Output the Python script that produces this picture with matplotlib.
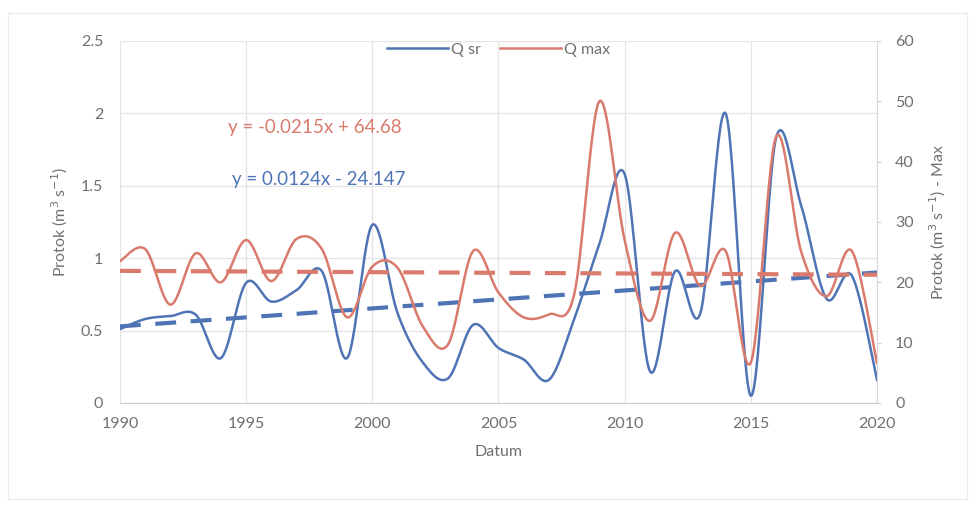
import matplotlib.pyplot as plt
import numpy as np
from matplotlib.patches import Rectangle

plt.rcParams['font.family'] = ['Lato', 'DejaVu Sans']

# yearly values
years = list(range(1990, 2021))
q_sr = [0.51, 0.58, 0.60, 0.61, 0.31, 0.83, 0.70, 0.78, 0.91, 0.31,
        1.23, 0.62, 0.28, 0.17, 0.54, 0.38, 0.30, 0.16, 0.58, 1.10,
        1.58, 0.22, 0.91, 0.62, 2.00, 0.05, 1.83, 1.36, 0.72, 0.88,
        0.16]
q_max = [23.5, 25.5, 16.3, 24.8, 20.0, 27.0, 20.2, 27.2, 25.5, 14.2,
         22.6, 22.4, 12.7, 9.7, 25.2, 18.3, 14.2, 14.7, 18.0, 50.0,
         27.0, 13.6, 28.2, 19.4, 25.2, 6.7, 44.1, 25.0, 17.7, 25.2,
         6.6]

# linear trends (slope, intercept)
trend_sr = (0.0124, -24.147)
trend_max = (-0.0215, 64.68)

blue = '#4f74b5'
red = '#d97a6c'
txt = '#707070'


def smooth(x, y, n=30):
    # bezier spline through every point, like a spreadsheet "smoothed line"
    x = np.asarray(x, float)
    y = np.asarray(y, float)
    px = np.concatenate([[x[0]], x, [x[-1]]])
    py = np.concatenate([[y[0]], y, [y[-1]]])
    xs, ys = [], []
    t = np.linspace(0, 1, n)
    for i in range(1, len(px) - 2):
        p0 = np.array([px[i], py[i]])
        p3 = np.array([px[i + 1], py[i + 1]])
        c1 = p0 + (p3 - np.array([px[i - 1], py[i - 1]])) / 6
        c2 = p3 - (np.array([px[i + 2], py[i + 2]]) - p0) / 6
        b = ((1 - t) ** 3)[:, None] * p0 + (3 * (1 - t) ** 2 * t)[:, None] * c1 \
            + (3 * (1 - t) * t ** 2)[:, None] * c2 + (t ** 3)[:, None] * p3
        xs.append(b[:, 0])
        ys.append(b[:, 1])
    return np.concatenate(xs), np.concatenate(ys)


fig = plt.figure(figsize=(9.74, 5.05), dpi=100)
fig.patches.append(Rectangle((0.008, 0.012), 0.985, 0.962, transform=fig.transFigure,
                             fill=False, edgecolor='#ececec', lw=1))
ax = fig.add_axes([0.1232, 0.202, 0.7772, 0.717])
ax2 = ax.twinx()

sx, sy = smooth(years, q_sr)
ax.plot(sx, sy, color=blue, lw=1.8, label='Q sr')
mx, my = smooth(years, q_max)
ax2.plot(mx, my, color=red, lw=1.8, label='Q max')

yr = np.array([1990, 2020])
ax.plot(yr, trend_sr[0] * yr + trend_sr[1], color=blue, lw=3, ls=(0, (5, 3.5)))
ax2.plot(yr, trend_max[0] * yr + trend_max[1], color=red, lw=3, ls=(0, (5, 3.5)))

ax.set_xlim(1990, 2020)
ax.set_ylim(0, 2.5)
ax2.set_ylim(0, 60)
ax.set_xticks(range(1990, 2021, 5))
ax.set_yticks([0, 0.5, 1, 1.5, 2, 2.5])
ax.set_yticklabels(['0', '0.5', '1', '1.5', '2', '2.5'])
ax2.set_yticks(range(0, 61, 10))

ax.grid(True, color='#e4e4e4', lw=0.9)
ax.set_axisbelow(True)
for a in (ax, ax2):
    for s in ('top', 'left', 'right'):
        a.spines[s].set_visible(False)
    a.spines['bottom'].set_color('#d0d0d0')
    a.tick_params(colors=txt, labelsize=11.5, length=0)
ax2.spines['right'].set_visible(True)
ax2.spines['right'].set_color('#d8d8d8')
ax2.tick_params(axis='y', length=3, color='#d0d0d0', pad=10)
ax.tick_params(axis='y', pad=12)
ax.tick_params(axis='x', pad=10)

ax.set_xlabel('Datum', color=txt, fontsize=11.5, labelpad=10)
ax.set_ylabel('Protok (m$^3$ s$^{-1}$)', color=txt, fontsize=11.5, labelpad=8)
ax2.set_ylabel('Protok (m$^3$ s$^{-1}$) - Max', color=txt, fontsize=11.5, labelpad=10)

ax.text(0.143, 0.745, 'y = -0.0215x + 64.68', transform=ax.transAxes, color=red, fontsize=13.5)
ax.text(0.148, 0.602, 'y = 0.0124x - 24.147', transform=ax.transAxes, color=blue, fontsize=13.5)

h1, l1 = ax.get_legend_handles_labels()
h2, l2 = ax2.get_legend_handles_labels()
leg = ax.legend(h1 + h2, l1 + l2, loc='upper center', bbox_to_anchor=(0.5, 1.035), ncol=2,
                frameon=False, fontsize=11.5, handlelength=3.8, handletextpad=0.2,
                columnspacing=1.2, labelcolor=txt)

fig.savefig('out.png', dpi=100, facecolor='white')
